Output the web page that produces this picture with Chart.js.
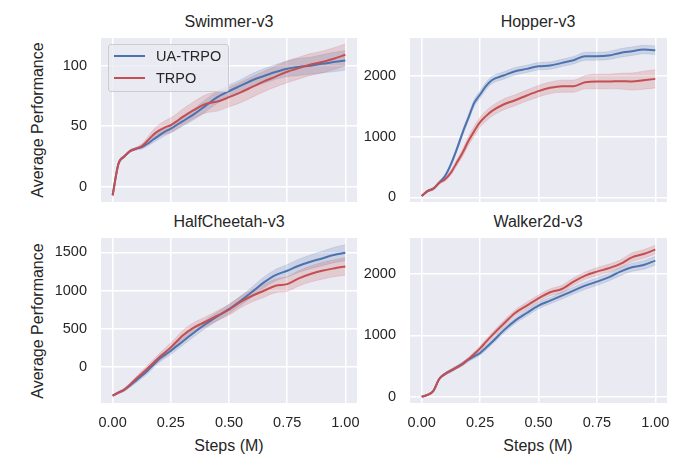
<!DOCTYPE html>
<html>
<head>
<meta charset="utf-8">
<script src="https://cdn.jsdelivr.net/npm/chart.js@4/dist/chart.umd.min.js"></script>
<style>
  html, body { margin: 0; padding: 0; background: #fff; }
  body { width: 689px; height: 456px; position: relative; overflow: hidden;
         font-family: "Liberation Sans", Arial, sans-serif; color: #262626; }
  canvas { position: absolute; }
  .txt { position: absolute; white-space: nowrap; transform: translate(-50%, -50%); }
  .title { font-size: 16px; }
  .ylab { font-size: 16px; transform: translate(-50%, -50%) rotate(-90deg); }
  .xlab { font-size: 16px; }
  .legend { position: absolute; left: 108px; top: 44px; width: 119px; height: 46px;
            border: 1px solid #cccccc; border-radius: 3px; background: rgba(234,234,242,0.8); }
  .legend .key { position: absolute; left: 5px; width: 31px; height: 2px; }
  .legend .lbl { position: absolute; left: 47px; font-size: 14.5px; transform: translateY(-50%); }
</style>
</head>
<body>

<div class="txt title" style="left:229px; top:22px">Swimmer-v3</div>
<div class="txt title" style="left:538px; top:22px">Hopper-v3</div>
<div class="txt title" style="left:229px; top:222px">HalfCheetah-v3</div>
<div class="txt title" style="left:538px; top:222px">Walker2d-v3</div>
<div class="txt ylab" style="left:38px; top:120px">Average Performance</div>
<div class="txt ylab" style="left:38px; top:321px">Average Performance</div>
<div class="txt xlab" style="left:229px; top:446px">Steps (M)</div>
<div class="txt xlab" style="left:538px; top:446px">Steps (M)</div>

<canvas id="swimmer"></canvas>
<canvas id="hopper"></canvas>
<canvas id="cheetah"></canvas>
<canvas id="walker"></canvas>

<div class="legend">
  <div class="key" style="top:10px; background:#4C72B0"></div>
  <div class="lbl" style="top:11px">UA-TRPO</div>
  <div class="key" style="top:32px; background:#C44E52"></div>
  <div class="lbl" style="top:33px">TRPO</div>
</div>

<script>
// ── Data ────────────────────────────────────────────────────────────────────
const steps = [0, 0.025, 0.05, 0.075, 0.1, 0.125, 0.15, 0.175, 0.2, 0.225, 0.25, 0.275, 0.3,
               0.35, 0.4, 0.45, 0.5, 0.55, 0.6, 0.65, 0.7, 0.75, 0.8, 0.85, 0.9, 0.95, 1.0]
const xTicks = [0, 0.25, 0.5, 0.75, 1.0]

const swimmerUa      = [-7, 19, 25, 29.5, 31.4, 32.8, 35.5, 39, 42.5, 45.5, 48, 51, 54, 60, 67, 74, 79, 83.5, 88, 91.5, 94.8, 97.5, 99, 100, 101.6, 103, 104.4]
const swimmerUaStd   = [1, 1, 1, 1, 1, 1.5, 2, 2.5, 3, 3.2, 3.5, 3.8, 4, 4.5, 5, 5, 5, 5, 5.5, 6, 6, 6.5, 7, 7, 7.5, 8, 8]
const swimmerTrpo    = [-7, 19, 25, 29.5, 31.4, 33.5, 38, 43, 46.5, 49, 51, 54, 57.5, 63.5, 68.5, 70.5, 74, 78, 82.5, 87, 91, 95, 98, 101, 103, 105.8, 109]
const swimmerTrpoStd = [1, 1, 1, 1, 1, 2, 3, 4, 5, 5.5, 6, 6.2, 6.5, 7, 7.5, 8, 8, 8.5, 8.5, 8.5, 8.5, 9, 9, 9, 9, 9, 9]
const swimmerTicks   = [0, 50, 100]

const hopperUa      = [22, 104, 143, 242, 352, 544, 791, 1066, 1313, 1560, 1698, 1835, 1934, 2011, 2082, 2121, 2165, 2176, 2220, 2264, 2330, 2330, 2341, 2385, 2412, 2440, 2429]
const hopperUaStd   = [10, 15, 20, 25, 30, 35, 40, 45, 50, 55, 60, 60, 60, 60, 60, 60, 60, 60, 60, 60, 65, 65, 65, 70, 70, 70, 70]
const hopperTrpo    = [22, 104, 143, 242, 297, 407, 571, 736, 929, 1093, 1242, 1341, 1423, 1533, 1604, 1681, 1753, 1808, 1835, 1835, 1901, 1912, 1912, 1918, 1912, 1934, 1956]
const hopperTrpoStd = [10, 15, 20, 25, 30, 40, 50, 60, 70, 80, 80, 85, 85, 90, 90, 90, 95, 95, 100, 100, 110, 120, 120, 130, 140, 150, 150]
const hopperTicks   = [0, 1000, 2000]

const cheetahUa      = [-380, -340, -302, -245, -184, -120, -52, 25, 100, 155, 210, 270, 328, 450, 560, 660, 756, 866, 984, 1106, 1202, 1259, 1325, 1377, 1421, 1465, 1495]
const cheetahUaStd   = [10, 15, 20, 25, 30, 35, 40, 40, 45, 45, 50, 50, 50, 55, 55, 55, 60, 60, 65, 70, 75, 80, 85, 90, 95, 100, 105]
const cheetahTrpo    = [-380, -340, -302, -235, -162, -92, -22, 50, 122, 188, 254, 330, 407, 516, 590, 669, 748, 850, 931, 997, 1062, 1084, 1159, 1216, 1259, 1290, 1316]
const cheetahTrpoStd = [10, 15, 20, 25, 30, 35, 40, 45, 50, 55, 60, 60, 65, 65, 65, 65, 70, 75, 80, 85, 90, 95, 100, 105, 110, 110, 115]
const cheetahTicks   = [0, 500, 1000, 1500]

const walkerUa      = [5, 33, 98, 293, 374, 428, 482, 537, 607, 660, 715, 800, 889, 1079, 1241, 1366, 1485, 1566, 1648, 1729, 1810, 1875, 1946, 2038, 2108, 2146, 2217]
const walkerUaStd   = [5, 10, 15, 20, 20, 25, 25, 30, 30, 35, 35, 40, 40, 45, 45, 50, 50, 50, 55, 55, 60, 60, 60, 65, 65, 70, 70]
const walkerTrpo    = [5, 33, 98, 293, 374, 428, 482, 537, 615, 700, 790, 895, 997, 1187, 1366, 1485, 1604, 1702, 1756, 1875, 1973, 2038, 2092, 2163, 2271, 2325, 2396]
const walkerTrpoStd = [5, 10, 15, 20, 20, 25, 25, 30, 30, 35, 40, 40, 45, 50, 50, 55, 55, 55, 60, 60, 60, 65, 65, 65, 70, 70, 70]
const walkerTicks   = [0, 1000, 2000]

// ── Styling ────────────────────────────────────────────────────────────────
const BLUE = "#4C72B0", RED = "#C44E52"
const BLUE_BAND = "rgba(76,114,176,0.2)", RED_BAND = "rgba(196,78,82,0.2)"
const YW = 60, PT = 10, PR = 10

const bgPlugin = {
  id: "plotBg",
  beforeDraw(chart) {
    const { ctx, chartArea: a } = chart
    ctx.save()
    ctx.fillStyle = "#EAEAF2"
    ctx.fillRect(a.left, a.top, a.right - a.left, a.bottom - a.top)
    ctx.restore()
  }
}

const pts = (ys) => steps.map((x, i) => ({ x, y: ys[i] }))
const band = (ys, sd, sign) => steps.map((x, i) => ({ x, y: ys[i] + sign * sd[i] }))

function panel(id, box, ua, uaStd, trpo, trpoStd, yTicks, yMin, yMax, showX) {
  const XH = showX ? 34 : 4
  const cv = document.getElementById(id)
  const w = box.w + YW + PR, h = box.h + PT + XH
  cv.width = w; cv.height = h
  cv.style.left = (box.x - YW) + "px"
  cv.style.top = (box.y - PT) + "px"
  cv.style.width = w + "px"; cv.style.height = h + "px"

  const line = (data, color) => ({ data, borderColor: color, borderWidth: 2, pointRadius: 0, fill: false, cubicInterpolationMode: "monotone" })
  const edge = (data, color, fill) => ({ data, borderColor: color, backgroundColor: color, borderWidth: 0.8, pointRadius: 0, fill, cubicInterpolationMode: "monotone" })

  new Chart(cv, {
    type: "line",
    data: {
      datasets: [
        line(pts(trpo), RED),
        line(pts(ua), BLUE),
        edge(band(trpo, trpoStd, 1), RED_BAND, "+1"),
        edge(band(trpo, trpoStd, -1), RED_BAND, false),
        edge(band(ua, uaStd, 1), BLUE_BAND, "+1"),
        edge(band(ua, uaStd, -1), BLUE_BAND, false)
      ]
    },
    options: {
      responsive: false,
      animation: false,
      events: [],
      layout: { padding: { top: PT, right: PR, left: 0, bottom: 0 } },
      plugins: { legend: { display: false }, tooltip: { enabled: false } },
      scales: {
        x: {
          type: "linear", min: -0.05, max: 1.05,
          afterBuildTicks: (s) => { s.ticks = xTicks.map(v => ({ value: v })) },
          afterFit: (s) => { s.height = XH; s.paddingLeft = 0; s.paddingRight = 0 },
          grid: { color: "#ffffff", lineWidth: 1.5, drawTicks: false },
          border: { display: false },
          ticks: { display: showX, padding: 11, color: "#262626", maxRotation: 0,
                   font: { family: "'Liberation Sans', Arial", size: 14.5 },
                   callback: (v) => v.toFixed(2) }
        },
        y: {
          type: "linear", min: yMin, max: yMax,
          afterBuildTicks: (s) => { s.ticks = yTicks.map(v => ({ value: v })) },
          afterFit: (s) => { s.width = YW; s.paddingTop = 0; s.paddingBottom = 0 },
          grid: { color: "#ffffff", lineWidth: 1.5, drawTicks: false },
          border: { display: false },
          ticks: { padding: 14, color: "#262626",
                   font: { family: "'Liberation Sans', Arial", size: 14.5 },
                   callback: (v) => String(v) }
        }
      }
    },
    plugins: [bgPlugin]
  })
}

panel("swimmer", { x: 101, y: 38, w: 256, h: 164 }, swimmerUa, swimmerUaStd, swimmerTrpo, swimmerTrpoStd, swimmerTicks, -12.6, 122.9, false)
panel("hopper",  { x: 410, y: 38, w: 257, h: 164 }, hopperUa, hopperUaStd, hopperTrpo, hopperTrpoStd, hopperTicks, -77, 2631, false)
panel("cheetah", { x: 101, y: 238, w: 256, h: 165 }, cheetahUa, cheetahUaStd, cheetahTrpo, cheetahTrpoStd, cheetahTicks, -476, 1689, true)
panel("walker",  { x: 410, y: 238, w: 257, h: 165 }, walkerUa, walkerUaStd, walkerTrpo, walkerTrpoStd, walkerTicks, -98, 2585, true)
</script>
</body>
</html>
